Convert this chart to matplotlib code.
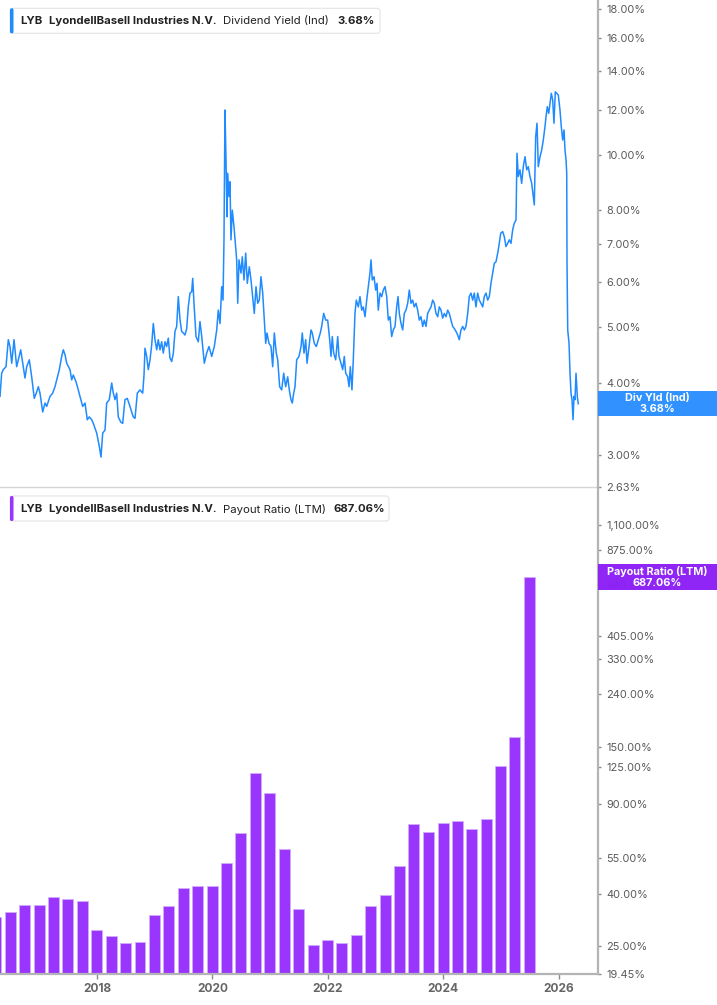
import numpy as np
import pandas as pd
import matplotlib
matplotlib.use("Agg")
import matplotlib.pyplot as plt
from matplotlib.patches import FancyBboxPatch, Rectangle
from matplotlib.ticker import FixedLocator, FuncFormatter, NullLocator

plt.rcParams['font.family'] = ['Inter', 'DejaVu Sans']

# dividend yield (Ind), %, decimal years
yield_year_a = [
    2016.319, 2016.348, 2016.376, 2016.423, 2016.463, 2016.492, 2016.522, 2016.562, 2016.608, 2016.636,
    2016.678, 2016.723, 2016.752, 2016.782, 2016.827, 2016.868, 2016.896, 2016.913, 2016.955, 2016.983,
    2017.012, 2017.059, 2017.099, 2017.128, 2017.186, 2017.232, 2017.272, 2017.302, 2017.347, 2017.388,
    2017.416, 2017.446, 2017.475, 2017.532, 2017.562, 2017.589, 2017.636, 2017.676, 2017.705, 2017.752,
    2017.792, 2017.832, 2017.867, 2017.908, 2017.936, 2017.995, 2018.040, 2018.069, 2018.099, 2018.139,
    2018.168, 2018.213, 2018.255, 2018.283, 2018.312, 2018.341, 2018.369, 2018.411, 2018.445, 2018.485,
    2018.525, 2018.572, 2018.601, 2018.629, 2018.659, 2018.699, 2018.745, 2018.792, 2018.815, 2018.832,
    2018.861, 2018.889, 2018.919, 2018.948, 2018.976, 2019.005, 2019.035, 2019.062, 2019.092, 2019.121,
    2019.149, 2019.179, 2019.208, 2019.236, 2019.265, 2019.295, 2019.323, 2019.352, 2019.381, 2019.409,
    2019.439, 2019.468, 2019.496, 2019.525, 2019.555, 2019.582, 2019.612, 2019.641, 2019.659, 2019.681,
    2019.716, 2019.756, 2019.785]
yield_pct_a = [
    3.79, 4.16, 4.22, 4.27, 4.76, 4.63, 4.33, 4.76, 4.27, 4.39,
    4.57, 4.27, 4.08, 4.27, 4.39, 4.10, 3.89, 3.76, 3.86, 3.94,
    3.84, 3.56, 3.69, 3.64, 3.79, 3.84, 3.94, 4.05, 4.22, 4.45,
    4.57, 4.48, 4.33, 4.22, 4.05, 4.13, 4.02, 3.89, 3.79, 3.64,
    3.69, 3.45, 3.49, 3.45, 3.40, 3.27, 3.10, 2.97, 3.27, 3.31,
    3.69, 3.74, 4.00, 3.84, 3.74, 3.84, 3.49, 3.42, 3.40, 3.74,
    3.76, 3.64, 3.56, 3.49, 3.47, 3.84, 3.89, 3.84, 4.13, 4.60,
    4.45, 4.22, 4.39, 4.66, 5.08, 4.76, 4.57, 4.76, 4.57, 4.72,
    4.51, 4.72, 4.63, 4.79, 4.42, 4.36, 4.51, 4.92, 5.02, 5.66,
    5.15, 4.92, 4.89, 4.85, 4.98, 5.43, 5.74, 5.77, 6.09, 5.51,
    4.82, 4.72, 5.12]

yield_year_b = [
    2019.815, 2019.860, 2019.901, 2019.941, 2019.988, 2020.033, 2020.075,
    2020.102, 2020.132, 2020.161, 2020.184, 2020.201, 2020.218, 2020.236, 2020.253, 2020.265, 2020.288,
    2020.305, 2020.322, 2020.345, 2020.374, 2020.392, 2020.421, 2020.439, 2020.461, 2020.496, 2020.518,
    2020.548, 2020.577, 2020.605, 2020.640, 2020.669, 2020.692, 2020.726, 2020.756, 2020.785, 2020.813,
    2020.842, 2020.872, 2020.899, 2020.924, 2020.946, 2020.981, 2021.016, 2021.045, 2021.073, 2021.107,
    2021.132, 2021.166, 2021.201, 2021.236, 2021.270, 2021.305, 2021.333, 2021.362, 2021.385, 2021.409,
    2021.432, 2021.461, 2021.501, 2021.536, 2021.558, 2021.588, 2021.617, 2021.640, 2021.674, 2021.709,
    2021.731, 2021.766, 2021.801, 2021.835, 2021.870, 2021.894, 2021.929, 2021.964, 2021.998, 2022.033,
    2022.056, 2022.078, 2022.102, 2022.137, 2022.172, 2022.194, 2022.229, 2022.258, 2022.286, 2022.310,
    2022.345, 2022.368, 2022.390, 2022.419, 2022.442, 2022.471, 2022.494, 2022.529, 2022.558, 2022.588,
    2022.615, 2022.645, 2022.674, 2022.702, 2022.731, 2022.749, 2022.771, 2022.801, 2022.830, 2022.853,
    2022.875, 2022.905, 2022.934, 2022.962, 2022.991, 2023.021, 2023.049, 2023.078]
yield_pct_b = [
    4.82, 4.33, 4.51, 4.63, 4.45, 4.63, 4.95,
    5.36, 5.08, 5.89, 5.58, 7.11, 11.98, 9.80, 7.80, 9.29, 8.46,
    8.98, 7.11, 8.01, 7.50, 7.11, 6.56, 5.51, 6.56, 6.22, 6.64,
    6.05, 6.74, 5.97, 6.38, 6.05, 5.74, 5.29, 5.89, 5.51, 5.58,
    6.13, 5.74, 5.15, 4.69, 4.89, 4.69, 4.63, 4.27, 4.89, 4.51,
    4.39, 3.94, 3.89, 4.16, 3.94, 4.10, 3.89, 3.74, 3.69, 3.84,
    3.94, 4.39, 4.45, 4.63, 4.89, 4.51, 4.76, 4.33, 4.63, 4.95,
    4.89, 4.69, 4.63, 4.76, 4.89, 5.02, 5.29, 5.15, 5.15, 4.76,
    4.45, 4.82, 4.51, 4.39, 4.82, 4.45, 4.33, 4.22, 4.45, 4.16,
    4.10, 3.94, 4.27, 3.89, 4.39, 5.29, 5.58, 5.43, 5.66, 5.36,
    5.43, 5.22, 5.58, 5.89, 6.22, 6.56, 6.05, 6.13, 5.81, 5.97,
    5.36, 5.74, 5.66, 5.81, 5.89, 5.66, 5.15, 5.22]

yield_year_c = [
    2023.107, 2023.135, 2023.165, 2023.194, 2023.217, 2023.239, 2023.269, 2023.298, 2023.326, 2023.355,
    2023.385, 2023.412, 2023.442, 2023.471, 2023.499, 2023.529, 2023.558, 2023.586, 2023.615, 2023.645,
    2023.672, 2023.702, 2023.731, 2023.759, 2023.789, 2023.818, 2023.846, 2023.875, 2023.905, 2023.932,
    2023.962, 2023.991, 2024.019, 2024.049, 2024.078, 2024.106, 2024.135, 2024.165, 2024.192, 2024.222,
    2024.251, 2024.279, 2024.308, 2024.338, 2024.366, 2024.395, 2024.425, 2024.452, 2024.482, 2024.511,
    2024.539, 2024.568, 2024.598, 2024.626, 2024.655, 2024.685, 2024.712, 2024.742, 2024.771, 2024.799,
    2024.828, 2024.858, 2024.886, 2024.915, 2024.945, 2024.972, 2024.997, 2025.031, 2025.059, 2025.088,
    2025.118, 2025.145, 2025.175, 2025.204, 2025.232, 2025.262, 2025.279, 2025.302, 2025.331, 2025.360,
    2025.388, 2025.418, 2025.447, 2025.475, 2025.504, 2025.534, 2025.562, 2025.579, 2025.603, 2025.626,
    2025.648, 2025.678, 2025.707, 2025.735, 2025.764, 2025.782, 2025.804, 2025.829, 2025.851, 2025.874,
    2025.898, 2025.920, 2025.943, 2025.967, 2025.995, 2026.024, 2026.047, 2026.071, 2026.094, 2026.111,
    2026.129, 2026.141, 2026.146, 2026.158, 2026.181, 2026.198, 2026.215, 2026.233, 2026.250, 2026.267,
    2026.284, 2026.302, 2026.324, 2026.341]
yield_pct_c = [
    4.82, 4.95, 5.02, 5.43, 5.66, 5.29, 5.08, 4.95, 5.29, 5.36,
    5.51, 5.81, 5.51, 5.58, 5.43, 5.51, 5.36, 5.15, 5.22, 5.02,
    5.15, 5.02, 5.29, 5.36, 5.43, 5.58, 5.51, 5.29, 5.22, 5.43,
    5.36, 5.19, 5.29, 5.22, 5.36, 5.29, 5.15, 5.02, 4.98, 4.92,
    4.85, 4.76, 4.95, 5.02, 4.95, 5.02, 5.29, 5.66, 5.74, 5.58,
    5.74, 5.43, 5.74, 5.58, 5.51, 5.43, 5.66, 5.74, 5.58, 5.66,
    5.97, 6.22, 6.47, 6.51, 6.74, 7.01, 7.30, 7.35, 7.20, 6.92,
    7.01, 7.11, 7.01, 7.40, 7.60, 7.70, 10.07, 9.17, 9.42, 8.92,
    9.54, 9.93, 9.42, 9.54, 9.17, 8.92, 8.46, 8.18, 10.76, 11.36,
    9.54, 9.93, 10.20, 10.62, 11.20, 11.66, 12.14, 11.82, 12.31, 12.81,
    12.47, 11.36, 12.89, 12.81, 12.72, 11.98, 11.20, 10.62, 11.06, 10.20,
    9.80, 9.29, 6.47, 4.95, 4.69, 4.16, 3.84, 3.74, 3.45, 3.79,
    3.74, 4.16, 3.79, 3.68]

# payout ratio (LTM), %, quarterly
payout_quarters = pd.period_range('2016Q1', '2025Q2', freq='Q')
payout_pct = [
    32.4, 34.1, 36.0, 36.3,
    38.9, 38.3, 37.5, 28.9,
    27.4, 25.6, 25.9, 33.1,
    35.8, 42.1, 42.8, 43.0,
    52.8, 69.1, 118.8, 99.0,
    59.8, 34.9, 25.3, 26.4,
    25.6, 27.7, 35.9, 39.6,
    51.4, 74.9, 69.7, 75.8,
    77.0, 71.3, 78.6, 126.1,
    163.7, 687.06]

yield_ticks = [2.63, 3, 4, 5, 6, 7, 8, 10, 12, 14, 16, 18]
payout_ticks = [19.45, 25, 40, 55, 90, 125, 150, 240, 330, 405, 640, 875, 1100]
year_ticks = [2018, 2020, 2022, 2024, 2026]

last_yield = "3.68%"
last_payout = "687.06%"

BLUE = '#1f8bff'
PURPLE = '#9935fd'

W, H = 717, 1005
fig = plt.figure(figsize=(W / 100, H / 100), dpi=100)


def px_rect(left, top, right, bottom):
    return [left / W, 1 - bottom / H, (right - left) / W, (bottom - top) / H]


def to_decyear(ts):
    start = pd.Timestamp(year=ts.year, month=1, day=1)
    days = 366 if ts.is_leap_year else 365
    return ts.year + (ts - start).days / days


ax1 = fig.add_axes(px_rect(0, 0, 598, 487.3))
ax2 = fig.add_axes(px_rect(0, 487.3, 598, 974))

pct_fmt = FuncFormatter(lambda v, pos: f"{v:,.2f}%")

# top: dividend yield
yx = np.concatenate([yield_year_a, yield_year_b, yield_year_c])
yv = np.concatenate([yield_pct_a, yield_pct_b, yield_pct_c])
ax1.plot(yx, yv, color=BLUE, lw=1.1, solid_joinstyle='round')
ax1.set_yscale('log')
ax1.set_ylim(2.63, 18.64)

# bottom: payout ratio bars
bar_x = [to_decyear(q.end_time.normalize()) for q in payout_quarters]
low = 19.45
ax2.bar(bar_x, np.array(payout_pct) - low * 0.5, bottom=low * 0.5, width=0.19,
        color=PURPLE, edgecolor='#d2acff', linewidth=0.6)
ax2.set_yscale('log')
ax2.set_ylim(low, 1544)

for ax, ticks in ((ax1, yield_ticks), (ax2, payout_ticks)):
    ax.set_xlim(2016.319, 2026.683)
    ax.yaxis.tick_right()
    ax.yaxis.set_major_locator(FixedLocator(ticks))
    ax.yaxis.set_minor_locator(NullLocator())
    ax.yaxis.set_major_formatter(pct_fmt)
    ax.tick_params(axis='y', which='major', direction='out', length=2.5, width=1,
                   color='#8a8a8a', pad=3.5, labelsize=7.9, labelcolor='#5a5a5a')
    ax.tick_params(axis='y', which='minor', length=0)
    for s in ('top', 'left'):
        ax.spines[s].set_visible(False)
    ax.spines['right'].set_color('#b4b4b4')
    ax.spines['right'].set_linewidth(1.6)
    ax.patch.set_visible(False)

ax1.tick_params(axis='x', bottom=False, labelbottom=False)
ax1.spines['bottom'].set_color('#d6d6d6')
ax1.spines['bottom'].set_linewidth(1.0)

ax2.spines['bottom'].set_color('#b4b4b4')
ax2.spines['bottom'].set_linewidth(1.6)
ax2.set_xticks(year_ticks)
ax2.set_xticklabels([str(y) for y in year_ticks], fontweight='bold')
ax2.tick_params(axis='x', direction='out', length=3.4, width=1, color='#8a8a8a',
                pad=3, labelsize=8.6, labelcolor='#666666')

# overlay for legends and value tags (pixel coordinates)
ov = fig.add_axes([0, 0, 1, 1], zorder=10)
ov.set_xlim(0, W)
ov.set_ylim(H, 0)
ov.axis('off')


def legend_box(top, bottom, right, accent, parts):
    ov.add_patch(FancyBboxPatch((10, top), right - 10, bottom - top,
                                boxstyle="round,pad=0,rounding_size=3",
                                fc='white', ec='#e4e4e4', lw=0.8))
    ov.add_patch(FancyBboxPatch((10, top), 3.5, bottom - top,
                                boxstyle="round,pad=0,rounding_size=1.5",
                                fc=accent, ec='none'))
    yc = (top + bottom) / 2 + 0.5
    for x, s, w in parts:
        ov.text(x, yc, s, ha='left', va='center', fontsize=8.2,
                fontweight=w, color='#222222')


legend_box(8.3, 33.3, 380, BLUE,
           [(20, 'LYB', 'bold'),
            (49.3, 'LyondellBasell Industries N.V.', 'bold'),
            (222.7, 'Dividend Yield (Ind)', 'normal'),
            (337, last_yield, 'bold')])
legend_box(496, 521, 389, PURPLE,
           [(20, 'LYB', 'bold'),
            (49.3, 'LyondellBasell Industries N.V.', 'bold'),
            (222.7, 'Payout Ratio (LTM)', 'normal'),
            (333, last_payout, 'bold')])


def value_tag(top, color, name, value):
    ov.add_patch(Rectangle((598, top), W - 598, 25.5, fc=color, ec='none', alpha=0.97))
    ov.text(657.5, top + 7.5, name, ha='center', va='center', fontsize=7.8,
            fontweight='bold', color='white')
    ov.text(657.5, top + 18.5, value, ha='center', va='center', fontsize=7.8,
            fontweight='bold', color='white')


value_tag(390.7, '#2a8fff', 'Div Yld (Ind)', last_yield)
value_tag(564, '#8c1ff6', 'Payout Ratio (LTM)', last_payout)

fig.savefig('out.png', dpi=100)
